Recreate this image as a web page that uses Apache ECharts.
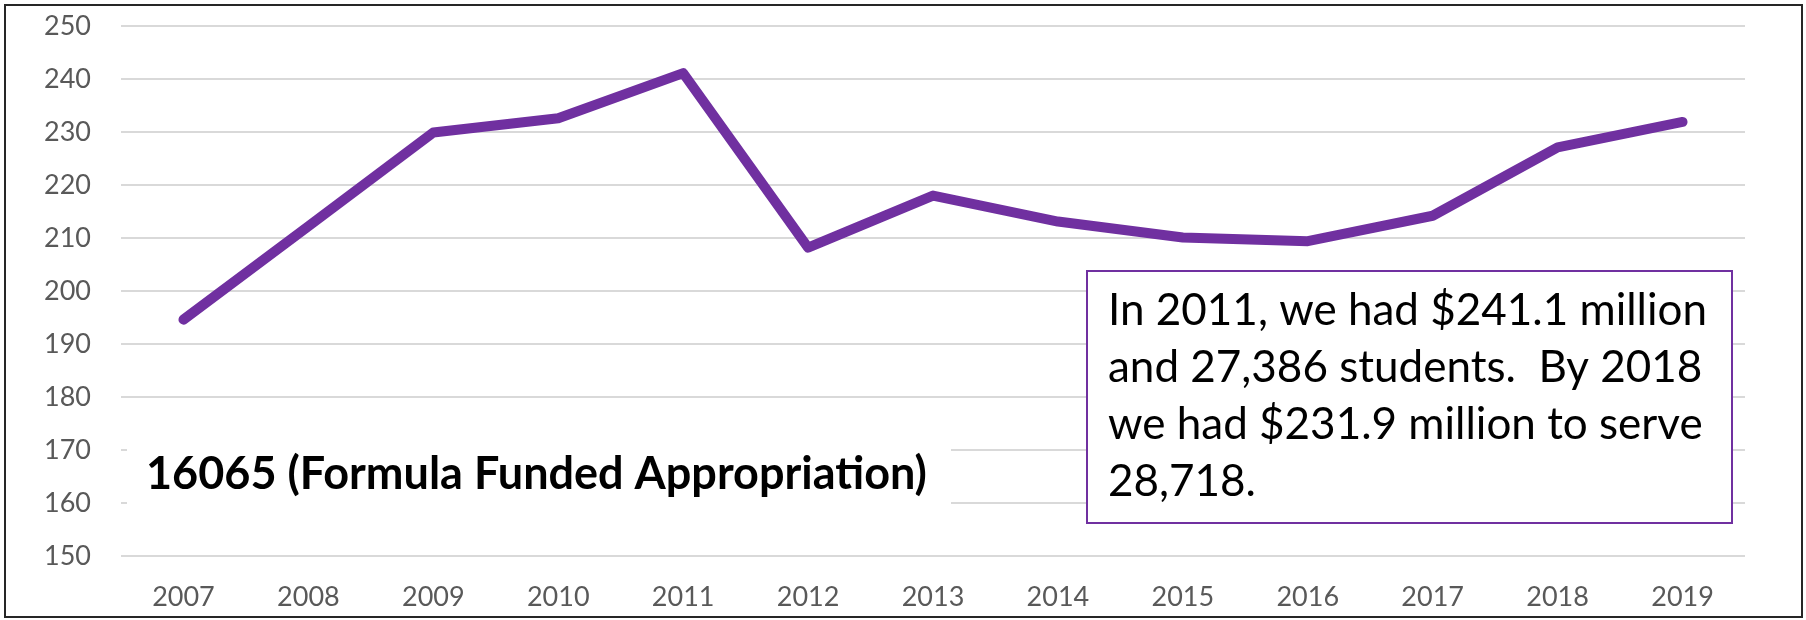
<!DOCTYPE html>
<html>
<head>
<meta charset="utf-8">
<script src="https://cdn.jsdelivr.net/npm/echarts@6/dist/echarts.min.js"></script>
<style>
  html, body { margin: 0; padding: 0; background: #fff; }
  #chart { width: 1806px; height: 620px; }
</style>
</head>
<body>
<div id="chart"></div>
<script>
// appropriation 16065, millions of dollars
const years = ['2007', '2008', '2009', '2010', '2011', '2012', '2013',
  '2014', '2015', '2016', '2017', '2018', '2019']
const funding = [194.6, 212.2, 229.9, 232.6, 241.1, 208.2, 218.0,
  213.1, 210.1, 209.4, 214.2, 227.1, 231.9]

const titleText = '16065 (Formula Funded Appropriation)'
const noteLines = [
  'In 2011, we had $241.1 million',
  'and 27,386 students.  By 2018',
  'we had $231.9 million to serve',
  '28,718.'
]

const purple = '#7030A0'
const font = 'Lato, "Open Sans", sans-serif'

const chart = echarts.init(document.getElementById('chart'))

chart.setOption({
  animation: false,
  backgroundColor: '#fff',
  grid: { left: 121, right: 61, top: 26, bottom: 64 },
  xAxis: {
    type: 'category',
    data: years,
    boundaryGap: true,
    axisLine: { show: false },
    axisTick: { show: false },
    axisLabel: { color: '#595959', fontSize: 27, fontFamily: font, margin: 28 }
  },
  yAxis: {
    type: 'value',
    min: 150,
    max: 250,
    interval: 10,
    axisLine: { show: false },
    axisTick: { show: false },
    axisLabel: { color: '#595959', fontSize: 27, fontFamily: font, margin: 30 },
    splitLine: { lineStyle: { color: '#d9d9d9', width: 2 } }
  },
  series: [{
    type: 'line',
    data: funding,
    symbol: 'none',
    lineStyle: { color: purple, width: 10, cap: 'round', join: 'round' }
  }],
  graphic: {
    elements: [
      // outer frame
      {
        type: 'rect',
        z: 100,
        shape: { x: 5, y: 5, width: 1797, height: 612 },
        style: { fill: 'none', stroke: '#262626', lineWidth: 2 }
      },
      // title, its white box hides the 160/170 gridlines
      {
        type: 'text',
        z: 103,
        x: 127,
        y: 428,
        style: {
          text: titleText,
          fill: '#000',
          font: 'bold 45px ' + font,
          backgroundColor: '#fff',
          padding: [24, 29, 24, 19],
          width: 776,
          textVerticalAlign: 'top'
        }
      },
      // note box
      {
        type: 'rect',
        z: 100,
        shape: { x: 1087, y: 271, width: 645, height: 252 },
        style: { fill: '#fff', stroke: purple, lineWidth: 2 }
      },
      {
        type: 'text',
        z: 101,
        x: 1108,
        y: 282,
        style: {
          text: noteLines.join('\n'),
          fill: '#000',
          font: '44px ' + font,
          lineHeight: 57,
          textVerticalAlign: 'top'
        }
      }
    ]
  }
})
</script>
</body>
</html>
